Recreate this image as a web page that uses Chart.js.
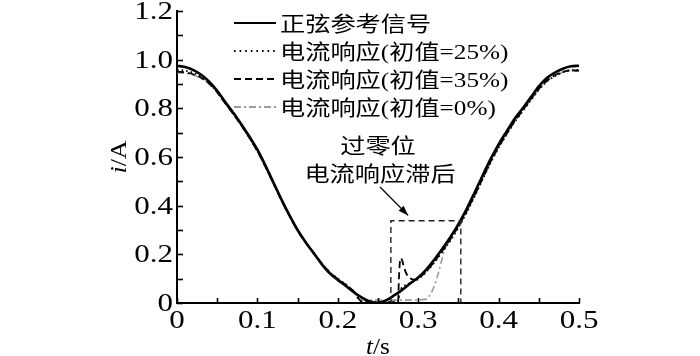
<!DOCTYPE html>
<html><head><meta charset="utf-8">
<script src="https://cdn.jsdelivr.net/npm/chart.js@4.4.1/dist/chart.umd.min.js"></script>
<style>html,body{margin:0;padding:0;background:#fff;}#wrap{width:700px;height:356px;}</style>
</head><body><div id="wrap"><canvas id="c" width="700" height="356"></canvas></div>
<script>
// ---- data ----
const refT = [0,0.01,0.02,0.03,0.04,0.05,0.06,0.07,0.08,0.09,0.10,0.11,0.12,0.13,0.14,0.15,0.16,0.17,0.18,0.19,0.20,0.21,0.22,0.23,0.24,0.25,0.26,0.27,0.28,0.29,0.30,0.31,0.32,0.33,0.34,0.35,0.36,0.37,0.38,0.39,0.40,0.41,0.42,0.43,0.44,0.45,0.46,0.47,0.48,0.49,0.50];
const refI = [0.975,0.970,0.958,0.938,0.910,0.872,0.826,0.782,0.735,0.684,0.630,0.565,0.495,0.425,0.360,0.300,0.250,0.205,0.160,0.122,0.095,0.070,0.044,0.022,0.006,0.000,0.011,0.031,0.054,0.080,0.105,0.137,0.178,0.223,0.270,0.324,0.385,0.453,0.523,0.591,0.652,0.705,0.757,0.800,0.845,0.890,0.925,0.947,0.963,0.973,0.975];

const resp25T = [0,0.01,0.02,0.03,0.04,0.05,0.06,0.07,0.08,0.09,0.10,0.11,0.12,0.13,0.14,0.15,0.16,0.17,0.18,0.19,0.20,0.21,0.22,0.225,0.23,0.24,0.25,0.26,0.27,0.275,0.277,0.28,0.285,0.29,0.30,0.31,0.32,0.33,0.34,0.35,0.36,0.37,0.38,0.39,0.40,0.41,0.42,0.43,0.44,0.45,0.46,0.47,0.48,0.49,0.50];
const resp25I = [0.958,0.955,0.946,0.930,0.905,0.868,0.822,0.778,0.731,0.680,0.625,0.561,0.492,0.423,0.358,0.299,0.250,0.206,0.163,0.127,0.100,0.076,0.048,0.022,0.006,0.004,0.004,0.004,0.004,0.006,0.045,0.065,0.075,0.082,0.098,0.127,0.166,0.210,0.256,0.310,0.370,0.437,0.507,0.576,0.638,0.692,0.744,0.788,0.833,0.876,0.910,0.932,0.948,0.957,0.958];

const resp35T = [0,0.01,0.02,0.03,0.04,0.05,0.06,0.07,0.08,0.09,0.10,0.11,0.12,0.13,0.14,0.15,0.16,0.17,0.18,0.19,0.20,0.21,0.22,0.225,0.23,0.24,0.25,0.26,0.27,0.275,0.276,0.278,0.28,0.282,0.286,0.29,0.295,0.30,0.31,0.32,0.33,0.34,0.35,0.36,0.37,0.38,0.39,0.40,0.41,0.42,0.43,0.44,0.45,0.46,0.47,0.48,0.49,0.50];
const resp35I = [0.950,0.948,0.940,0.926,0.902,0.866,0.821,0.777,0.730,0.679,0.624,0.560,0.491,0.422,0.357,0.298,0.249,0.205,0.162,0.126,0.099,0.075,0.047,0.021,0.005,0.003,0.003,0.003,0.003,0.004,0.100,0.184,0.176,0.150,0.116,0.102,0.096,0.101,0.130,0.170,0.214,0.262,0.316,0.376,0.442,0.512,0.581,0.642,0.696,0.748,0.792,0.837,0.880,0.914,0.936,0.950,0.956,0.955];

const resp0T = [0,0.01,0.02,0.03,0.04,0.05,0.06,0.07,0.08,0.09,0.10,0.11,0.12,0.13,0.14,0.15,0.16,0.17,0.18,0.19,0.20,0.21,0.22,0.225,0.23,0.24,0.25,0.26,0.27,0.28,0.29,0.30,0.31,0.315,0.32,0.325,0.33,0.335,0.34,0.345,0.35,0.36,0.37,0.38,0.39,0.40,0.41,0.42,0.43,0.44,0.45,0.46,0.47,0.48,0.49,0.50];
const resp0I = [0.946,0.944,0.937,0.923,0.900,0.864,0.820,0.776,0.729,0.678,0.623,0.559,0.490,0.421,0.356,0.297,0.248,0.204,0.161,0.125,0.098,0.074,0.046,0.030,0.013,0.012,0.012,0.012,0.012,0.012,0.012,0.013,0.016,0.035,0.070,0.122,0.185,0.238,0.275,0.294,0.314,0.372,0.438,0.508,0.577,0.639,0.693,0.745,0.789,0.834,0.877,0.911,0.933,0.948,0.954,0.952];

const seriesNames = ['正弦参考信号','电流响应(初值=25%)','电流响应(初值=35%)','电流响应(初值=0%)'];
const xTickLabels = ['0','0.1','0.2','0.3','0.4','0.5'];
const yTickLabels = ['0','0.2','0.4','0.6','0.8','1.0','1.2'];
const noteLines = ['过零位','电流响应滞后'];

// ---- build ----
const pts = (ts, vs) => ts.map((t, i) => ({x: t, y: vs[i]}));
const SERIF = "'Liberation Serif','Times New Roman',serif";
const MIXED = "'Liberation Serif','Noto Sans CJK SC',sans-serif";

const datasets = [
  {label: seriesNames[0], data: pts(refT, refI), borderColor: '#000', borderWidth: 2.6, borderDash: []},
  {label: seriesNames[1], data: pts(resp25T, resp25I), borderColor: '#000', borderWidth: 1.8, borderDash: [1.6, 3]},
  {label: seriesNames[2], data: pts(resp35T, resp35I), borderColor: '#000', borderWidth: 1.8, borderDash: [7, 4]},
  {label: seriesNames[3], data: pts(resp0T, resp0I), borderColor: '#9a9a9a', borderWidth: 1.6, borderDash: [7, 3, 2, 3]}
].map(d => Object.assign(d, {pointRadius: 0, fill: false, cubicInterpolationMode: 'monotone'}));

// draw (possibly mixed-style) text, horizontally stretched by sx
function drawText(ctx, parts, x, y, align, sx) {
  let w = 0;
  parts.forEach(p => { ctx.font = p.f; p.w = ctx.measureText(p.t).width; w += p.w; });
  let start = align === 'center' ? x - w * sx / 2 : align === 'right' ? x - w * sx : x;
  ctx.save();
  ctx.translate(start, y);
  ctx.scale(sx, 1);
  ctx.textAlign = 'left';
  let cx = 0;
  parts.forEach(p => { ctx.font = p.f; ctx.fillText(p.t, cx, 0); cx += p.w; });
  ctx.restore();
}

const decor = {
  id: 'decor',
  afterDraw(chart) {
    const {ctx, chartArea: ca, scales: {x, y}} = chart;
    ctx.save();
    // inward tick marks
    ctx.strokeStyle = '#000'; ctx.lineWidth = 1.6; ctx.setLineDash([]);
    y.ticks.forEach(t => { const py = Math.round(y.getPixelForValue(t.value)) + 0.5; ctx.beginPath(); ctx.moveTo(ca.left, py); ctx.lineTo(ca.left + 6, py); ctx.stroke(); });
    x.ticks.forEach(t => { const px = Math.round(x.getPixelForValue(t.value)) + 0.5; ctx.beginPath(); ctx.moveTo(px, ca.bottom); ctx.lineTo(px, ca.bottom - 5); ctx.stroke(); });

    ctx.fillStyle = '#000';
    ctx.textBaseline = 'alphabetic';
    const tickF = '25px ' + SERIF;
    // tick labels (through the scales)
    y.ticks.forEach(t => {
      const k = Math.round(t.value * 10);
      if (k % 2) return;
      drawText(ctx, [{t: yTickLabels[k / 2], f: tickF}], ca.left - 4, y.getPixelForValue(t.value) + 8, 'right', 1.24);
    });
    x.ticks.forEach(t => {
      const k = Math.round(t.value * 100);
      if (k % 10) return;
      drawText(ctx, [{t: xTickLabels[k / 10], f: tickF}], x.getPixelForValue(t.value), 328, 'center', 1.24);
    });

    // axis titles
    const itF = 'italic 24px ' + SERIF, nF = '24px ' + SERIF;
    drawText(ctx, [{t: 't', f: itF}, {t: '/s', f: nF}], (ca.left + ca.right) / 2, 354, 'center', 1.05);
    ctx.save();
    ctx.translate(126, (ca.top + ca.bottom) / 2);
    ctx.rotate(-Math.PI / 2);
    drawText(ctx, [{t: 'i', f: itF}, {t: '/A', f: nF}], 0, 0, 'center', 1.08);
    ctx.restore();

    // legend
    const legF = '21px ' + MIXED;
    chart.data.datasets.forEach((d, i) => {
      const ly = 23 + 28 * i;
      ctx.strokeStyle = d.borderColor; ctx.lineWidth = i === 0 ? 2.2 : 1.8;
      ctx.setLineDash(i === 1 ? [1.6, 4] : d.borderDash);
      ctx.beginPath(); ctx.moveTo(234, ly); ctx.lineTo(276, ly); ctx.stroke();
      ctx.setLineDash([]);
      ctx.fillStyle = '#000';
      drawText(ctx, [{t: d.label, f: legF}], 280, ly + 8, 'left', 1.2);
    });

    // annotation text
    drawText(ctx, [{t: noteLines[0], f: legF}], x.getPixelForValue(0.25), y.getPixelForValue(0.648) + 8, 'center', 1.2);
    drawText(ctx, [{t: noteLines[1], f: legF}], x.getPixelForValue(0.2525), y.getPixelForValue(0.533) + 8, 'center', 1.2);

    // arrow
    const ax1 = x.getPixelForValue(0.2525), ay1 = y.getPixelForValue(0.477);
    const ax2 = x.getPixelForValue(0.2875), ay2 = y.getPixelForValue(0.360);
    ctx.strokeStyle = '#000'; ctx.lineWidth = 1.3;
    ctx.beginPath(); ctx.moveTo(ax1, ay1); ctx.lineTo(ax2, ay2); ctx.stroke();
    const ang = Math.atan2(ay2 - ay1, ax2 - ax1);
    ctx.beginPath();
    ctx.moveTo(ax2, ay2);
    ctx.lineTo(ax2 - 10 * Math.cos(ang) + 3.5 * Math.sin(ang), ay2 - 10 * Math.sin(ang) - 3.5 * Math.cos(ang));
    ctx.lineTo(ax2 - 10 * Math.cos(ang) - 3.5 * Math.sin(ang), ay2 - 10 * Math.sin(ang) + 3.5 * Math.cos(ang));
    ctx.closePath(); ctx.fill();

    // dashed box
    const bx1 = x.getPixelForValue(0.266), bx2 = x.getPixelForValue(0.353);
    const by1 = y.getPixelForValue(0.338), by2 = y.getPixelForValue(0);
    ctx.strokeStyle = '#222'; ctx.lineWidth = 1.4; ctx.setLineDash([6, 4]);
    ctx.beginPath(); ctx.moveTo(bx1, by2); ctx.lineTo(bx1, by1); ctx.lineTo(bx2, by1); ctx.lineTo(bx2, by2); ctx.stroke();
    ctx.restore();
  }
};

new Chart(document.getElementById('c'), {
  type: 'line',
  data: {datasets},
  options: {
    responsive: false,
    devicePixelRatio: 1,
    animation: false,
    layout: {padding: {top: 11, right: 121, bottom: 0, left: 0}},
    plugins: {legend: {display: false}, tooltip: {enabled: false}},
    scales: {
      x: {
        type: 'linear', min: 0, max: 0.5,
        afterFit: s => { s.height = 53; },
        grid: {display: false},
        border: {display: true, color: '#000', width: 2},
        ticks: {stepSize: 0.05, autoSkip: false, maxRotation: 0, display: false}
      },
      y: {
        type: 'linear', min: 0, max: 1.2,
        afterFit: s => { s.width = 177; },
        grid: {display: false},
        border: {display: true, color: '#000', width: 2},
        ticks: {stepSize: 0.1, autoSkip: false, display: false}
      }
    }
  },
  plugins: [decor]
});
</script>
</body></html>
